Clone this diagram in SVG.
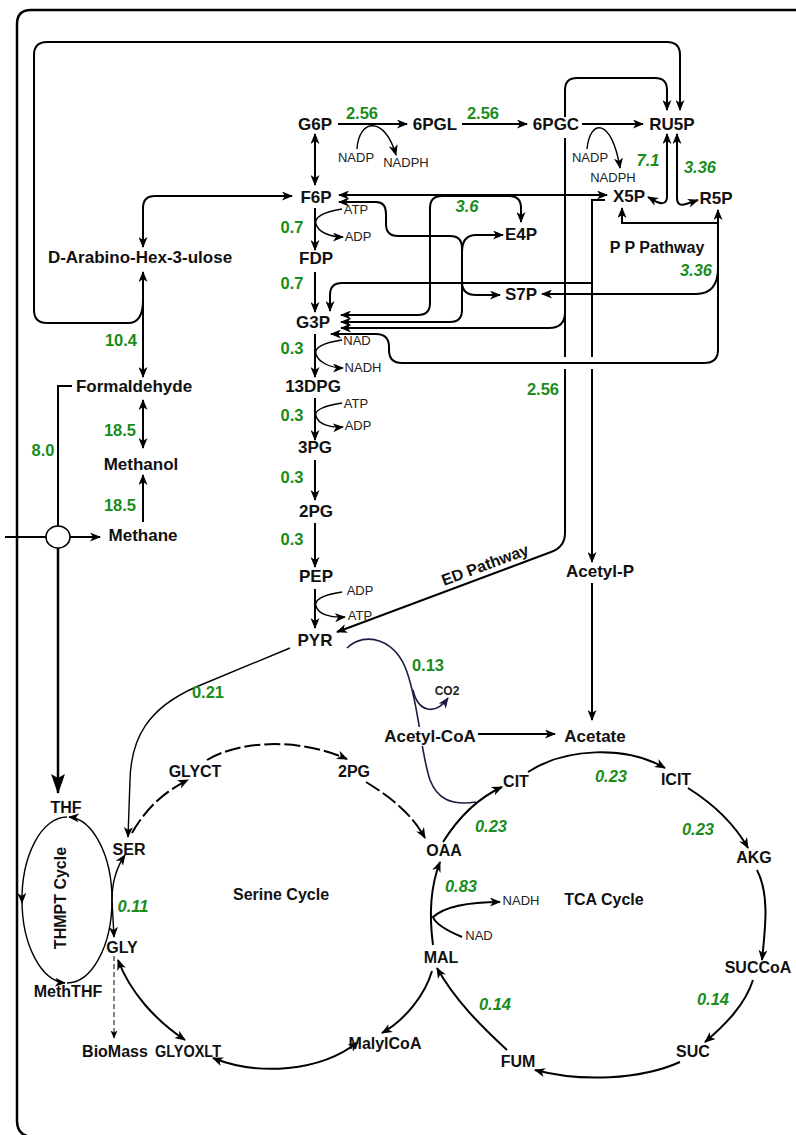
<svg xmlns="http://www.w3.org/2000/svg" width="796" height="1135" viewBox="0 0 796 1135">
<defs>
<style>
.c{fill:none;stroke:#000;stroke-width:2}
.t{stroke-width:1.4}
.nv{stroke:#1c1c44;stroke-width:1.6}
.d{stroke-dasharray:16 4}
.d2{stroke-dasharray:5 3;stroke-width:1}
.n{font-family:"Liberation Sans",Arial,sans-serif;font-weight:bold;font-size:17px;text-anchor:middle;fill:#111}
.m{font-family:"Liberation Sans",Arial,sans-serif;font-weight:bold;font-size:16px;text-anchor:middle;fill:#111}
.s{font-family:"Liberation Sans",Arial,sans-serif;font-size:13px;text-anchor:middle;fill:#222}
.g{font-family:"Liberation Sans",Arial,sans-serif;font-weight:bold;font-size:16.5px;text-anchor:middle;fill:#1a8c1a}
.i{font-style:italic}
</style>
<marker id="a" markerUnits="userSpaceOnUse" markerWidth="11" markerHeight="9" viewBox="0 0 11 9" refX="10" refY="4.5" orient="auto-start-reverse"><path d="M0,0 L11,4.5 L0,9 L3,4.5 z" fill="#000"/></marker>
<marker id="an" markerUnits="userSpaceOnUse" markerWidth="11" markerHeight="9" viewBox="0 0 11 9" refX="10" refY="4.5" orient="auto-start-reverse"><path d="M0,0 L11,4.5 L0,9 L3,4.5 z" fill="#1c1c44"/></marker>
<marker id="as" markerUnits="userSpaceOnUse" markerWidth="8" markerHeight="7" viewBox="0 0 8 7" refX="7.5" refY="3.5" orient="auto-start-reverse"><path d="M0,0 L8,3.5 L0,7 L2,3.5 z" fill="#000"/></marker>
<marker id="ab" markerUnits="userSpaceOnUse" markerWidth="20" markerHeight="14" viewBox="0 0 20 14" refX="19" refY="7" orient="auto"><path d="M0,0 L20,7 L0,14 L4,7 z" fill="#000"/></marker>
</defs>
<rect width="796" height="1135" fill="#fff"/>
<g id="connectors">
<path class="c" style="stroke-width:2.5" d="M796 10 H31 Q17 10 17 24 V1121 Q17 1135 31 1137"/>
<path class="c" d="M143 300 Q143 323 128 323 H47 Q34 323 34 310 V55 Q34 42 47 42 H667 Q680 42 680 55 V110" marker-end="url(#a)"/>
<path class="c" d="M565 117 V90 Q565 78 577 78 H655 Q667 78 667 90 V110" marker-end="url(#a)"/>
<path class="c" d="M338 124 H407" marker-end="url(#a)"/>
<path class="c" d="M462 124 H527" marker-end="url(#a)"/>
<path class="c" d="M582 124 H643" marker-end="url(#a)"/>
<path class="c t" d="M357 149 C359 118 385 116 396 155" marker-end="url(#a)"/>
<path class="c t" d="M587 149 C590 118 612 118 620 168" marker-end="url(#a)"/>
<path class="c" d="M315 134 V185" marker-start="url(#a)" marker-end="url(#a)"/>
<path class="c" d="M339 195 H607" marker-start="url(#a)" marker-end="url(#a)"/>
<path class="c" d="M143 247 V208 Q143 196 155 196 H292" marker-start="url(#a)" marker-end="url(#a)"/>
<path class="c" d="M667 134 V196 Q667 206 657 202 L648 197" marker-start="url(#a)" marker-end="url(#a)"/>
<path class="c" d="M677 134 V198 Q677 207 686 204 L698 200" marker-start="url(#a)" marker-end="url(#a)"/>
<path class="c" d="M718 223 H622 V208" marker-end="url(#a)"/>
<path class="c" d="M718 210 V350 Q718 363 704 363 H402 Q389 363 389 350 V347 Q389 334 376 334 H331" marker-start="url(#a)" marker-end="url(#a)"/>
<path class="c" d="M718 268 Q718 294 696 294 H542" marker-end="url(#a)"/>
<path class="c" d="M339 202 H376 Q386 202 386 214 V224 Q386 236 398 236 H450 Q462 236 462 248 V310 Q462 322 450 322 H341" marker-start="url(#a)" marker-end="url(#a)"/>
<path class="c" d="M462 252 Q462 235 476 235 H503" marker-end="url(#a)"/>
<path class="c" d="M462 282 Q462 295 476 295 H500" marker-end="url(#a)"/>
<path class="c" d="M341 315 H418 Q430 315 430 303 V208 Q430 196 442 196 H509 Q521 196 521 208 V222" marker-start="url(#a)" marker-end="url(#a)"/>
<path class="c" d="M605 200 H592 V357 M592 369 V562" marker-end="url(#a)"/>
<path class="c" d="M592 283 H342 Q330 283 330 295 V311" marker-end="url(#a)"/>
<path class="c" d="M565 138 V357 M565 369 V533 Q565 547 551 552 L337 632" marker-end="url(#a)"/>
<path class="c" d="M565 312 Q565 328 549 328 H341" marker-end="url(#a)"/>
<path class="c" d="M315 208 V250" marker-end="url(#a)"/>
<path class="c t" d="M342 209 C322 212 314 218 316 224 C318 232 330 237 343 237" marker-end="url(#a)"/>
<path class="c" d="M315 272 V312" marker-end="url(#a)"/>
<path class="c" d="M315 334 V377" marker-end="url(#a)"/>
<path class="c t" d="M342 340 C322 343 314 348 316 354 C318 362 330 368 343 368" marker-end="url(#a)"/>
<path class="c" d="M315 398 V440" marker-end="url(#a)"/>
<path class="c t" d="M342 403 C322 406 314 411 316 416 C318 424 330 428 343 427" marker-end="url(#a)"/>
<path class="c" d="M315 460 V500" marker-end="url(#a)"/>
<path class="c" d="M315 523 V567" marker-end="url(#a)"/>
<path class="c" d="M315 589 V628" marker-end="url(#a)"/>
<path class="c t" d="M342 592 C322 595 314 600 316 606 C318 614 330 618 345 617" marker-end="url(#a)"/>
<path class="c t" d="M290 648 L196 687 C148 708 131 738 130 780 L128 837" marker-end="url(#a)"/>
<path class="c nv" d="M347 648 C366 630 396 640 407 672 C420 710 420 750 430 780 C437 798 450 806 476 802"/>
<path class="c nv" d="M413 690 C418 712 435 716 448 698" marker-end="url(#an)"/>
<path class="c" d="M478 734 H555" marker-end="url(#a)"/>
<path class="c" d="M592 583 V720" marker-end="url(#a)"/>
<path class="c" d="M143 272 V377" marker-start="url(#a)" marker-end="url(#a)"/>
<path class="c" d="M143 400 V448" marker-start="url(#a)" marker-end="url(#a)"/>
<path class="c" d="M143 522 V475" marker-end="url(#a)"/>
<path class="c" d="M72 386 H58 V526"/>
<path class="c" d="M5 537 H46"/>
<path class="c" d="M70 537 H100" marker-end="url(#a)"/>
<path class="c" style="stroke-width:2.5" d="M58 548 V793" marker-end="url(#ab)"/>
<ellipse cx="58" cy="537" rx="12" ry="11" fill="#fff" stroke="#000" stroke-width="1.6"/>
<path class="c t" d="M112 900 A45 83 0 0 0 69 817" marker-end="url(#a)"/>
<path class="c t" d="M67 817 A45 83 0 0 0 22 903" marker-end="url(#a)"/>
<path class="c t" d="M22 900 A45 83 0 0 0 65 983" marker-end="url(#a)"/>
<path class="c t" d="M67 983 A45 83 0 0 0 112 900"/>
<path class="c t" d="M125 855 C116 868 112 882 112 900 L114 937" marker-start="url(#a)" marker-end="url(#a)"/>
<path class="c" d="M118 960 C130 992 155 1020 185 1040" marker-start="url(#a)" marker-end="url(#a)"/>
<path class="c d2" d="M114 956 V1038" marker-end="url(#as)"/>
<path class="c" d="M213 1058 C258 1076 320 1072 358 1042" marker-start="url(#a)" marker-end="url(#a)"/>
<path class="c d" d="M132 833 C145 810 163 792 188 780" marker-end="url(#a)"/>
<path class="c d" d="M207 760 C240 740 300 738 347 759" marker-end="url(#a)"/>
<path class="c d" d="M366 782 C395 800 412 815 425 838" marker-end="url(#a)"/>
<path class="c" d="M432 971 C425 995 405 1020 382 1033" marker-end="url(#a)"/>
<path class="c" d="M433 945 C429 915 431 885 440 862" marker-end="url(#a)"/>
<path class="c" d="M462 937 Q436 926 433 917 Q450 902 500 902" marker-end="url(#a)"/>
<path class="c" d="M443 842 C460 815 478 798 502 787" marker-end="url(#a)"/>
<path class="c" d="M528 772 C565 748 625 745 665 768" marker-end="url(#a)"/>
<path class="c" d="M688 788 C715 805 735 825 748 848" marker-end="url(#a)"/>
<path class="c" d="M757 870 C770 895 765 930 762 960" marker-end="url(#a)"/>
<path class="c" d="M753 980 C745 1005 725 1025 705 1042" marker-end="url(#a)"/>
<path class="c" d="M680 1062 C640 1080 580 1082 535 1070" marker-end="url(#a)"/>
<path class="c" d="M507 1050 C480 1025 455 1000 437 968" marker-end="url(#a)"/>
</g>
<g id="n-G6P"><text class="n" x="315" y="130">G6P</text></g>
<g id="n-6PGL"><text class="n" x="435" y="130">6PGL</text></g>
<g id="n-6PGC"><text class="n" x="556" y="130">6PGC</text></g>
<g id="n-RU5P"><text class="n" x="672" y="130">RU5P</text></g>
<g id="n-F6P"><text class="n" x="316" y="203">F6P</text></g>
<g id="n-X5P"><text class="n" x="629" y="202">X5P</text></g>
<g id="n-R5P"><text class="n" x="716" y="204">R5P</text></g>
<g id="n-E4P"><text class="n" x="521" y="240">E4P</text></g>
<g id="n-S7P"><text class="n" x="521" y="300">S7P</text></g>
<g id="n-DAH"><text class="n" x="140" y="263">D-Arabino-Hex-3-ulose</text></g>
<g id="n-FDP"><text class="n" x="316" y="264">FDP</text></g>
<g id="n-G3P"><text class="n" x="313" y="328">G3P</text></g>
<g id="n-13DPG"><text class="n" x="313" y="392">13DPG</text></g>
<g id="n-3PG"><text class="n" x="315" y="453">3PG</text></g>
<g id="n-2PG"><text class="n" x="316" y="517">2PG</text></g>
<g id="n-PEP"><text class="n" x="316" y="582">PEP</text></g>
<g id="n-PYR"><text class="n" x="315" y="646">PYR</text></g>
<g id="n-Formaldehyde"><text class="n" x="134" y="392">Formaldehyde</text></g>
<g id="n-Methanol"><text class="n" x="141" y="470">Methanol</text></g>
<g id="n-Methane"><text class="n" x="143" y="541">Methane</text></g>
<g id="n-AcetylP"><text class="n" x="600" y="577">Acetyl-P</text></g>
<g id="n-AcetylCoA"><rect x="382" y="727" width="96" height="19" fill="#fff"/><text class="n" x="430" y="742">Acetyl-CoA</text></g>
<g id="n-Acetate"><text class="n" x="595" y="742">Acetate</text></g>
<g id="n-THF"><text class="m" x="66" y="813">THF</text></g>
<g id="n-SER"><text class="m" x="129" y="855">SER</text></g>
<g id="n-GLYCT"><text class="m" x="195" y="777">GLYCT</text></g>
<g id="n-2PGs"><text class="m" x="354" y="777">2PG</text></g>
<g id="n-OAA"><text class="m" x="444" y="856">OAA</text></g>
<g id="n-CIT"><text class="m" x="516" y="787">CIT</text></g>
<g id="n-ICIT"><text class="m" x="676" y="785">ICIT</text></g>
<g id="n-AKG"><text class="m" x="754" y="863">AKG</text></g>
<g id="n-SUCCoA"><text class="m" x="758" y="973">SUCCoA</text></g>
<g id="n-SUC"><text class="m" x="693" y="1057">SUC</text></g>
<g id="n-FUM"><text class="m" x="518" y="1067">FUM</text></g>
<g id="n-MAL"><text class="m" x="441" y="963">MAL</text></g>
<g id="n-MalylCoA"><text class="m" x="385" y="1049">MalylCoA</text></g>
<g id="n-GLYOXLT"><text class="m" x="188" y="1057" textLength="66" lengthAdjust="spacingAndGlyphs">GLYOXLT</text></g>
<g id="n-BioMass"><text class="m" x="115" y="1057">BioMass</text></g>
<g id="n-GLY"><text class="m" x="122" y="953">GLY</text></g>
<g id="n-MethTHF"><text class="m" x="68" y="997">MethTHF</text></g>
<g id="cofactors">
<text class="s" x="356" y="162">NADP</text>
<text class="s" x="406" y="167">NADPH</text>
<text class="s" x="590" y="162">NADP</text>
<text class="s" x="613" y="182">NADPH</text>
<text class="s" x="356" y="214">ATP</text>
<text class="s" x="358" y="241">ADP</text>
<text class="s" x="357" y="345">NAD</text>
<text class="s" x="363" y="372">NADH</text>
<text class="s" x="356" y="408">ATP</text>
<text class="s" x="358" y="430">ADP</text>
<text class="s" x="360" y="595">ADP</text>
<text class="s" x="360" y="620">ATP</text>
<text class="s" x="521" y="905">NADH</text>
<text class="s" x="479" y="940">NAD</text>
<text class="s" x="447" y="695" style="font-weight:bold;font-size:12px">CO2</text>
</g>
<g id="labels">
<text class="m" x="657" y="253">P P Pathway</text>
<text class="m" transform="translate(487,570) rotate(-20.4)" x="0" y="0">ED Pathway</text>
<text class="m" x="281" y="900">Serine Cycle</text>
<text class="m" x="604" y="905">TCA Cycle</text>
<text class="m" transform="translate(66,898) rotate(-90)" x="0" y="0">THMPT Cycle</text>
</g>
<g id="fluxes">
<text class="g" x="362" y="119">2.56</text>
<text class="g" x="483" y="119">2.56</text>
<text class="g i" x="648" y="166">7.1</text>
<text class="g i" x="700" y="173">3.36</text>
<text class="g i" x="467" y="212">3.6</text>
<text class="g i" x="696" y="276">3.36</text>
<text class="g" x="292" y="233">0.7</text>
<text class="g" x="292" y="289">0.7</text>
<text class="g" x="292" y="354">0.3</text>
<text class="g" x="292" y="421">0.3</text>
<text class="g" x="292" y="483">0.3</text>
<text class="g" x="292" y="545">0.3</text>
<text class="g" x="121" y="346">10.4</text>
<text class="g" x="120" y="436">18.5</text>
<text class="g" x="120" y="511">18.5</text>
<text class="g" x="43" y="456">8.0</text>
<text class="g" x="543" y="395">2.56</text>
<text class="g" x="208" y="698">0.21</text>
<text class="g" x="428" y="671">0.13</text>
<text class="g i" x="491" y="832">0.23</text>
<text class="g i" x="611" y="782">0.23</text>
<text class="g i" x="698" y="835">0.23</text>
<text class="g i" x="461" y="892">0.83</text>
<text class="g i" x="495" y="1010">0.14</text>
<text class="g i" x="713" y="1005">0.14</text>
<text class="g i" x="133" y="912">0.11</text>
</g>
</svg>
